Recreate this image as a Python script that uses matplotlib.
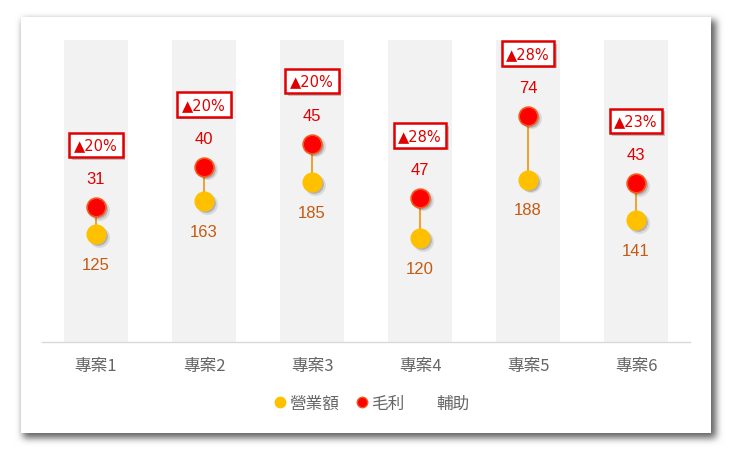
import numpy as np
import matplotlib
matplotlib.use("Agg")
import matplotlib.pyplot as plt
import matplotlib.patheffects as pe
import matplotlib.transforms as mtransforms
from matplotlib.lines import Line2D
from matplotlib.patches import Patch

plt.rcParams['font.family'] = ['Noto Sans CJK TC', 'DejaVu Sans']

categories = ['專案1', '專案2', '專案3', '專案4', '專案5', '專案6']
revenue = [125, 163, 185, 120, 188, 141]
profit = [31, 40, 45, 47, 74, 43]
growth = ['20%', '20%', '20%', '28%', '28%', '23%']
aux = [350, 350, 350, 350, 350, 350]

W, H = 740, 460
fig = plt.figure(figsize=(W / 100, H / 100), dpi=100)

# background card with blurred shadow
def box_blur(a, r):
    k = 2 * r + 1
    for axis in (0, 1):
        p = np.pad(a, [(r + 1, r) if i == axis else (0, 0) for i in range(2)], mode='edge')
        c = np.cumsum(p, axis=axis)
        if axis == 0:
            a = (c[k:, :] - c[:-k, :]) / k
        else:
            a = (c[:, k:] - c[:, :-k]) / k
    return a

x0, x1, y0, y1 = 21, 711, 18, 434
mask = np.zeros((H, W))
mask[y0 + 3:y1 + 5, x0 + 2:x1 + 5] = 1.0
sh = mask
for _ in range(3):
    sh = box_blur(sh, 3)
img = np.ones((H, W, 3)) * (1 - 0.62 * sh)[..., None]
img[y0:y1, x0:x1, :] = 1.0
fig.figimage(img, 0, 0, origin='upper', zorder=-5)

ax = fig.add_axes([42 / W, 1 - 343 / H, 648 / W, 302 / H])
ax.set_zorder(2)
ax.patch.set_alpha(0)
x = np.arange(len(categories))

ax.bar(x, aux, width=0.6, color='#F2F2F2', zorder=1)

tops = [r + p for r, p in zip(revenue, profit)]
ax.vlines(x, revenue, tops, color='#F0A030', lw=1.4, zorder=2)

# soft marker shadows
for dx, ms, a in [(2.5, 15, 0.10), (2.0, 13.5, 0.18)]:
    tr = mtransforms.offset_copy(ax.transData, fig=fig, x=dx, y=-dx, units='dots')
    for yv in (revenue, tops):
        ax.plot(x, yv, 'o', ms=ms, color='#000000', alpha=a, mew=0, ls='none',
                transform=tr, zorder=2.5)

ax.plot(x, revenue, 'o', ms=13.5, color='#FFC000', mec='#FFC000', ls='none', zorder=3)
ax.plot(x, tops, 'o', ms=13.5, color='#FF0000', mec='#F4581C', mew=1.2, ls='none', zorder=4)

for xi, r, t, p, g in zip(x, revenue, tops, profit, growth):
    ax.annotate(str(r), (xi, r), xytext=(0, -21.5), textcoords='offset points',
                ha='center', va='center', fontsize=12, color='#C55A11',
                family=['Liberation Sans', 'DejaVu Sans'], zorder=5)
    ax.annotate(str(p), (xi, t), xytext=(0, 20.5), textcoords='offset points',
                ha='center', va='center', fontsize=12, color='#E00000',
                family=['Liberation Sans', 'DejaVu Sans'], zorder=5)
    ax.annotate('▲' + g, (xi, t), xytext=(0, 45), textcoords='offset points',
                ha='center', va='center', fontsize=10.5, color='#E00000',
                family=['DejaVu Sans'], zorder=6,
                bbox=dict(boxstyle='square,pad=0.32', fc='white', ec='#E00000', lw=1.8,
                          path_effects=[pe.SimplePatchShadow(offset=(2, -2), alpha=0.3), pe.Normal()]))

ax.set_xlim(-0.5, len(categories) - 0.5)
ax.set_ylim(0, 350)
ax.set_yticks([])
ax.set_xticks(x)
ax.set_xticklabels(categories, fontsize=12, color='#666666')
ax.tick_params(axis='x', length=0, pad=11)
for s in ['top', 'right', 'left']:
    ax.spines[s].set_visible(False)
ax.spines['bottom'].set_color('#D9D9D9')
ax.spines['bottom'].set_linewidth(1)

handles = [
    Line2D([], [], marker='o', ls='none', ms=7.5, color='#FFC000'),
    Line2D([], [], marker='o', ls='none', ms=7.5, color='#FF0000', mec='#F4581C'),
    Patch(facecolor='none', edgecolor='none'),
]
leg = fig.legend(handles, ['營業額', '毛利', '輔助'], loc='center', bbox_to_anchor=(372 / W, 1 - 404 / H),
                 ncol=3, frameon=False, fontsize=12, handlelength=0.7, handletextpad=0.2,
                 columnspacing=1.0, labelcolor='#666666')

fig.savefig('out.png', dpi=100, facecolor='white')
